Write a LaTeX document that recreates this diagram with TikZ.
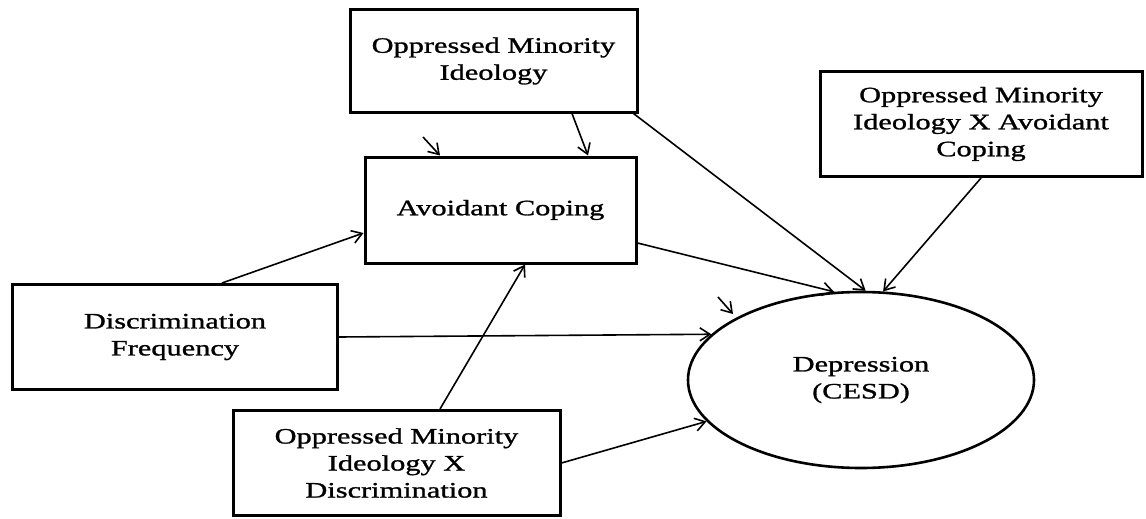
\documentclass[tikz,border=0pt]{standalone}
\usepackage{fontspec}
\setmainfont[FakeStretch=1.38,FakeBold=1.2]{Liberation Serif}
\usetikzlibrary{arrows.meta,shapes.geometric,calc}
\begin{document}
\begin{tikzpicture}[x=1pt,y=-1pt,
  box/.style={draw,line width=3pt,rectangle,inner sep=0pt,align=center,
     font=\fontsize{22}{27}\selectfont},
  oval/.style={draw,line width=2.6pt,ellipse,inner sep=0pt,align=center,
     font=\fontsize{22}{27}\selectfont},
  arr/.style={line width=1.6pt,-{Straight Barb[length=10pt,width=13pt,line width=1.6pt]}}]
\useasboundingbox (0,0) rectangle (1146,519);
\node[box,minimum width=287pt,minimum height=102pt] (top) at (493.5,61) {Oppressed Minority\\Ideology};
\node[box,minimum width=271pt,minimum height=106pt] (ac) at (500.5,210) {Avoidant Coping};
\node[box,minimum width=325pt,minimum height=105pt] (df) at (175,337) {Discrimination\\Frequency};
\node[box,minimum width=327pt,minimum height=105pt] (omixd) at (396.5,463) {Oppressed Minority\\Ideology X\\Discrimination};
\node[box,minimum width=322pt,minimum height=105pt] (omixac) at (981,124) {Oppressed Minority\\Ideology X Avoidant\\Coping};
\node[oval,minimum width=346pt,minimum height=176pt] (dep) at (861,380) {Depression\\(CESD)};
\coordinate (m1) at (423,137);
\coordinate (m2) at (718,297);
\coordinate (m2e) at (733,314);
\draw[arr] ([xshift=78.5pt]top.south) -- ([xshift=87.5pt]ac.north);
\draw[arr] (m1) -- ([xshift=-60.5pt]ac.north);
\draw[arr] ([xshift=-5pt]top.south east) -- (dep.87.4);
\draw[arr] (omixac.south) -- (dep.76.6);
\draw[arr] ([yshift=-33pt]ac.east) -- (dep.107.8);
\draw[arr] (m2) -- (m2e);
\draw[arr] (df.east) -- (dep.163.9);
\draw[arr] ([xshift=47pt]df.north) -- ([yshift=-23pt]ac.west);
\draw[arr] ([xshift=43.5pt]omixd.north) -- ([xshift=24.5pt]ac.south);
\draw[arr] (omixd.east) -- (dep.195.1);
\end{tikzpicture}
\end{document}
